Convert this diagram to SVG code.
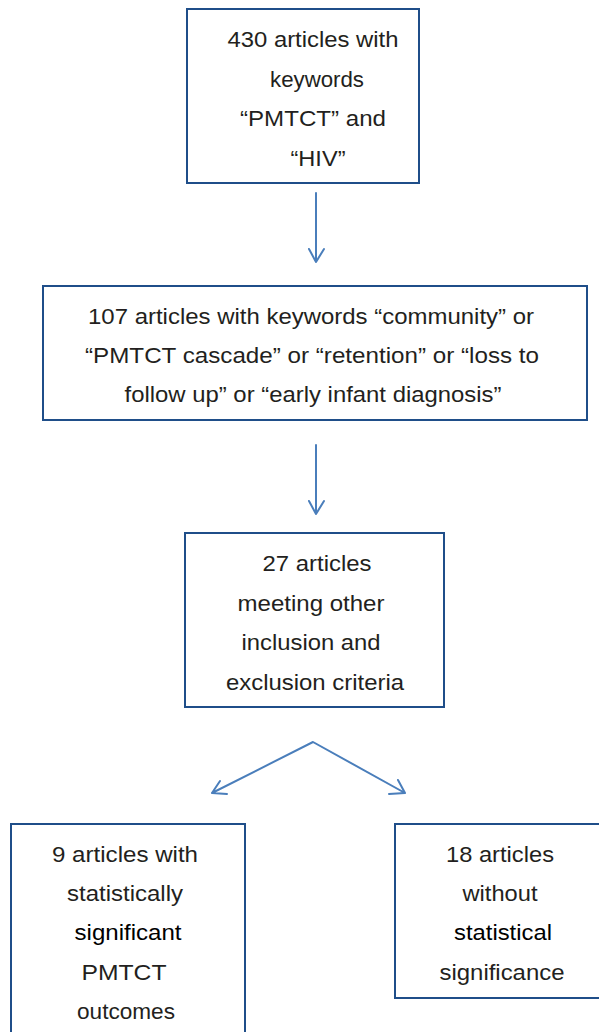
<svg xmlns="http://www.w3.org/2000/svg" width="599" height="1032" viewBox="0 0 599 1032">
<style>
.box{fill:#fff;stroke:#1f4e89;stroke-width:2}
.t{font-family:"Liberation Sans",Arial,sans-serif;font-size:22.5px;fill:#231f20;text-anchor:middle}
.b{fill:#000}
.c{fill:none;stroke:#4a7ebb;stroke-width:2;stroke-linecap:round;stroke-linejoin:round}
</style>
<rect width="599" height="1032" fill="#fff"/>
<g id="connectors">
<path class="c" d="M316 193V262M309 249L316 262L324 249"/>
<path class="c" d="M316 445V514M309 501L316 514L324 501"/>
<path class="c" d="M212 793L313 742L405 793M220 781L212 793L227 794M398 780L405 793L389 794"/>
</g>
<g id="n1">
<rect class="box" x="187" y="9" width="232" height="174"/>
<text class="t" x="313" y="47" textLength="171" lengthAdjust="spacingAndGlyphs">430 articles with</text>
<text class="t" x="317" y="86.5" textLength="94" lengthAdjust="spacingAndGlyphs">keywords</text>
<text class="t" x="313" y="126" textLength="146" lengthAdjust="spacingAndGlyphs">“PMTCT” and</text>
<text class="t" x="318" y="165.5" textLength="55" lengthAdjust="spacingAndGlyphs">“HIV”</text>
</g>
<g id="n2">
<rect class="box" x="43" y="286" width="544" height="134"/>
<text class="t" x="311" y="324" textLength="446" lengthAdjust="spacingAndGlyphs">107 articles with keywords “community” or</text>
<text class="t" x="312" y="363" textLength="454" lengthAdjust="spacingAndGlyphs">“PMTCT cascade” or “retention” or “loss to</text>
<text class="t" x="313" y="402" textLength="377" lengthAdjust="spacingAndGlyphs">follow up” or “early infant diagnosis”</text>
</g>
<g id="n3">
<rect class="box" x="185" y="533" width="259" height="174"/>
<text class="t" x="317" y="571" textLength="109" lengthAdjust="spacingAndGlyphs">27 articles</text>
<text class="t" x="311" y="610.5" textLength="147" lengthAdjust="spacingAndGlyphs">meeting other</text>
<text class="t" x="311" y="650" textLength="139" lengthAdjust="spacingAndGlyphs">inclusion and</text>
<text class="t" x="315" y="689.5" textLength="178" lengthAdjust="spacingAndGlyphs">exclusion criteria</text>
</g>
<g id="n4">
<rect class="box" x="11" y="824" width="234" height="220"/>
<text class="t" x="125" y="862" textLength="146" lengthAdjust="spacingAndGlyphs">9 articles with</text>
<text class="t" x="125" y="901" textLength="116" lengthAdjust="spacingAndGlyphs">statistically</text>
<text class="t b" x="128" y="940" textLength="107" lengthAdjust="spacingAndGlyphs">significant</text>
<text class="t" x="124" y="980" textLength="85" lengthAdjust="spacingAndGlyphs">PMTCT</text>
<text class="t" x="126" y="1019" textLength="98" lengthAdjust="spacingAndGlyphs">outcomes</text>
</g>
<g id="n5">
<rect class="box" x="395" y="824" width="215" height="174"/>
<text class="t" x="500" y="862" textLength="108" lengthAdjust="spacingAndGlyphs">18 articles</text>
<text class="t" x="500" y="901" textLength="75" lengthAdjust="spacingAndGlyphs">without</text>
<text class="t b" x="503" y="940" textLength="98" lengthAdjust="spacingAndGlyphs">statistical</text>
<text class="t" x="502" y="980" textLength="125" lengthAdjust="spacingAndGlyphs">significance</text>
</g>
</svg>
